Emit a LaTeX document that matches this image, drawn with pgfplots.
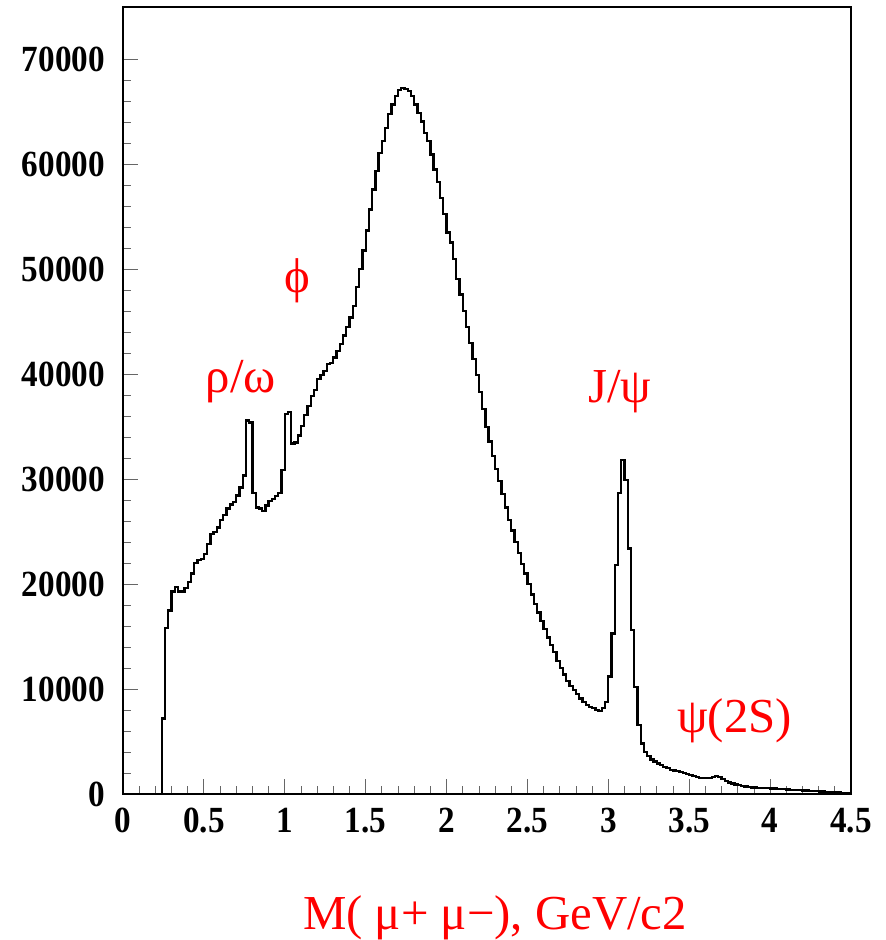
\documentclass[border=0pt]{standalone}
\usepackage{fontspec}
\setmainfont{Liberation Serif}
\newfontfamily\tickfont{Liberation Serif}[FakeStretch=0.9]
\usepackage{pgfplots}
\pgfplotsset{compat=1.18}
\newcommand\redfont{\fontsize{49}{49}\selectfont}
\begin{document}
\begin{tikzpicture}
\path[use as bounding box] (0,0) rectangle (886bp,940bp);
\begin{axis}[
  at={(123bp,146bp)}, anchor=south west,
  scale only axis, width=728bp, height=787bp,
  xmin=0, xmax=4.5, ymin=0, ymax=75000,
  xtick={0,0.5,1,1.5,2,2.5,3,3.5,4,4.5},
  ytick={0,10000,20000,30000,40000,50000,60000,70000},
  minor x tick num=4, minor y tick num=4,
  tick align=inside, tick pos=left,
  major tick length=15bp, minor tick length=8bp,
  tick style={black!60, line width=0.8bp},
  axis line style={line width=2bp},
  scaled y ticks=false, scaled x ticks=false,
  /pgf/number format/1000 sep={},
  /pgf/number format/assume math mode=true,
  ticklabel style={font=\tickfont\bfseries\fontsize{37}{37}\selectfont, inner sep=0pt},
  yticklabel style={anchor=east, xshift=-18bp},
  xticklabel style={anchor=north, yshift=-14bp},
  clip=false,
]
\addplot[const plot mark left, black, line width=2.3bp, mark=none] coordinates {
(0,0) (0.24,7200) (0.26,15800) (0.28,17500) (0.30,19300) (0.32,19700) (0.34,19300)
(0.36,19300) (0.38,19600) (0.40,20200) (0.42,21000) (0.44,22000) (0.46,22300)
(0.48,22400) (0.50,22900) (0.52,23850) (0.54,24800) (0.56,24950) (0.58,25400)
(0.60,26100) (0.62,26600) (0.64,27200) (0.66,27600) (0.68,27800) (0.70,28450)
(0.72,29200) (0.74,30350) (0.76,35600) (0.78,35400) (0.80,28700) (0.82,27300)
(0.84,27200) (0.86,27000) (0.88,27500) (0.90,27900) (0.92,28100) (0.94,28400)
(0.96,28700) (0.98,30900) (1.00,36200) (1.02,36400) (1.04,33400) (1.06,33500)
(1.08,34150) (1.10,35100) (1.12,36100) (1.14,37000) (1.16,37900) (1.18,38500)
(1.20,39550) (1.22,39900) (1.24,40300) (1.26,41000) (1.28,41100) (1.30,41600)
(1.32,42200) (1.34,42900) (1.36,43700) (1.38,44500) (1.40,45400) (1.42,46500)
(1.44,48300) (1.46,50000) (1.48,51800) (1.50,53700) (1.52,55700) (1.54,57600)
(1.56,59400) (1.58,61100) (1.60,62200) (1.62,63500) (1.64,64800) (1.66,65700)
(1.68,66500) (1.70,67100) (1.72,67300) (1.74,67200) (1.76,67000) (1.78,66500)
(1.80,65700) (1.82,64900) (1.84,64100) (1.86,63000) (1.88,62200) (1.90,60950)
(1.92,59500) (1.94,58300) (1.96,56800) (1.98,55250) (2.00,53500) (2.02,52550)
(2.04,51000) (2.06,49100) (2.08,47600) (2.10,46050) (2.12,44500) (2.14,43000)
(2.16,41450) (2.18,39900) (2.20,38300) (2.22,36700) (2.24,35000) (2.26,33600)
(2.28,32200) (2.30,31000) (2.32,29800) (2.34,28600) (2.36,27300) (2.38,26100)
(2.40,25100) (2.42,24000) (2.44,23000) (2.46,21900) (2.48,21000) (2.50,20000)
(2.52,19000) (2.54,18100) (2.56,17300) (2.58,16500) (2.60,15700) (2.62,14900)
(2.64,14200) (2.66,13500) (2.68,12700) (2.70,12000) (2.72,11400) (2.74,10800)
(2.76,10300) (2.78,9900) (2.80,9500) (2.82,9100) (2.84,8800) (2.86,8500)
(2.88,8300) (2.90,8200) (2.92,8000) (2.94,7900) (2.96,8200) (2.98,8800)
(3.00,11200) (3.02,15300) (3.04,21800) (3.06,28700) (3.08,31800) (3.10,29900)
(3.12,23400) (3.14,15600) (3.16,10200) (3.18,6600) (3.20,4800) (3.22,4000)
(3.24,3600) (3.26,3300) (3.28,3100) (3.30,2900) (3.32,2750) (3.34,2600)
(3.36,2450) (3.38,2300) (3.40,2250) (3.42,2200) (3.44,2100) (3.46,2000)
(3.48,1900) (3.50,1800) (3.52,1700) (3.54,1600) (3.56,1550) (3.58,1500)
(3.60,1500) (3.62,1550) (3.64,1650) (3.66,1700) (3.68,1600) (3.70,1450)
(3.72,1250) (3.74,1100) (3.76,1000) (3.78,900) (3.80,850) (3.82,780)
(3.84,720) (3.86,670) (3.88,630) (3.90,610) (3.92,590) (3.94,570)
(3.96,560) (3.98,550) (4.00,530) (4.02,510) (4.04,490) (4.06,470)
(4.08,450) (4.10,430) (4.12,410) (4.14,390) (4.16,380) (4.18,360)
(4.20,340) (4.22,320) (4.24,300) (4.26,280) (4.28,270) (4.30,250)
(4.32,240) (4.34,220) (4.36,200) (4.38,180) (4.40,160) (4.42,140)
(4.44,120) (4.46,110) (4.48,100) (4.50,100)
};
\node[red, font=\redfont, anchor=base] at (axis cs:0.729,38300) {ρ/ω};
\node[red, font=\redfont, anchor=base] at (axis cs:1.075,47800) {ϕ};
\node[red, font=\redfont, anchor=base] at (axis cs:3.07,37300) {J/ψ};
\node[red, font=\redfont, anchor=base] at (axis cs:3.78,5900) {ψ(2S)};
\node[red, font=\redfont, anchor=base] at (axis cs:2.30,-12940) {M( μ+ μ−), GeV/c2};
\end{axis}
\end{tikzpicture}
\end{document}
